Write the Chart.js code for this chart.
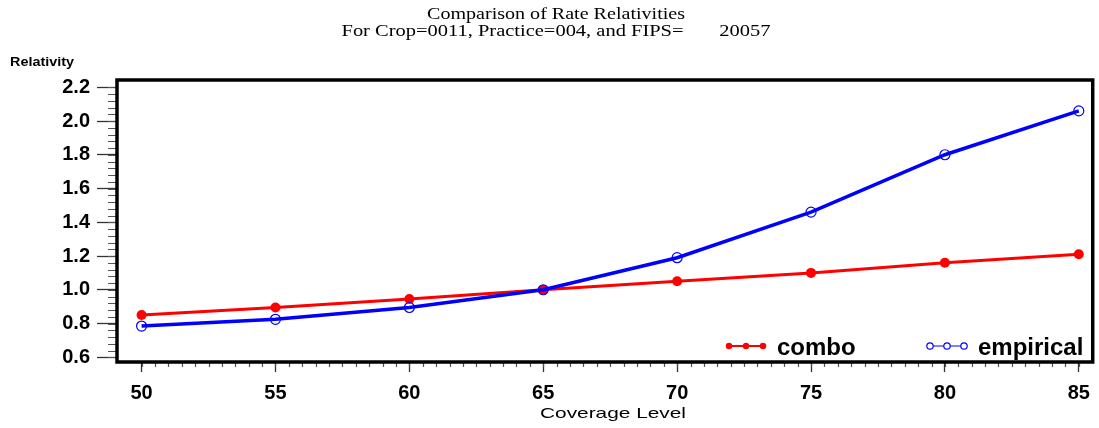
<!DOCTYPE html>
<html>
<head>
<meta charset="utf-8">
<script src="https://cdn.jsdelivr.net/npm/chart.js@4.4.1/dist/chart.umd.min.js"></script>
<style>
  html, body { margin: 0; padding: 0; background: #fff; }
  #wrap { width: 1099px; height: 428px; position: relative; }
</style>
</head>
<body>
<div id="wrap"><canvas id="rateChart"></canvas></div>
<script>
// chart data
var coverageLevels = [50, 55, 60, 65, 70, 75, 80, 85];
var comboValues = [0.85, 0.895, 0.945, 1.0, 1.05, 1.10, 1.16, 1.21];
var empiricalValues = [0.785, 0.825, 0.895, 1.0, 1.19, 1.46, 1.80, 2.06];
var yTickValues = [0.6, 0.8, 1.0, 1.2, 1.4, 1.6, 1.8, 2.0, 2.2];
var xTickValues = [50, 55, 60, 65, 70, 75, 80, 85];
var seriesNames = ["combo", "empirical"];
var titleLines = ["Comparison of Rate Relativities", "For Crop=0011, Practice=004, and FIPS=       20057"];
var yAxisTitle = "Relativity";
var xAxisTitle = "Coverage Level";

function toPoints(xs, ys) {
  var pts = [];
  for (var i = 0; i < xs.length; i++) {
    pts.push({ x: xs[i], y: ys[i] });
  }
  return pts;
}

// draws text squeezed/stretched horizontally to a given width
function drawWide(ctx, text, x, y, font, width, align) {
  ctx.save();
  ctx.font = font;
  var w = ctx.measureText(text).width;
  var sx = width / w;
  ctx.translate(x, y);
  ctx.scale(sx, 1);
  ctx.textAlign = align || "left";
  ctx.textBaseline = "alphabetic";
  ctx.fillStyle = "#000";
  ctx.fillText(text, 0, 0);
  ctx.restore();
}

var framePlugin = {
  id: "framePlugin",
  afterDraw: function(chart) {
    var ctx = chart.ctx;
    var a = chart.chartArea;
    var xs = chart.scales.x, ys = chart.scales.y;

    // minor ticks
    ctx.save();
    ctx.strokeStyle = "#555";
    ctx.lineWidth = 1.2;
    ctx.beginPath();
    for (var v = 0.6; v < 2.2001; v += 0.04) {
      var py = Math.round(ys.getPixelForValue(v)) + 0.5;
      ctx.moveTo(a.left - 9, py);
      ctx.lineTo(a.left, py);
    }
    for (var u = 50; u <= 85.001; u += 0.5) {
      var px = Math.round(xs.getPixelForValue(u)) + 0.5;
      ctx.moveTo(px, a.bottom);
      ctx.lineTo(px, a.bottom + 5);
    }
    ctx.stroke();
    ctx.restore();

    // box frame
    ctx.save();
    ctx.strokeStyle = "#000";
    ctx.lineWidth = 3.5;
    ctx.strokeRect(a.left, a.top, a.right - a.left, a.bottom - a.top);
    ctx.restore();

    // titles
    drawWide(ctx, titleLines[0], 556, 19, "16px 'Liberation Serif', serif", 258, "center");
    drawWide(ctx, titleLines[1], 556, 36, "16px 'Liberation Serif', serif", 429, "center");
    drawWide(ctx, yAxisTitle, 10, 66, "bold 13px 'Liberation Sans', Arial, sans-serif", 64, "left");
    drawWide(ctx, xAxisTitle, 613, 418, "15px 'Liberation Sans', Arial, sans-serif", 146, "center");

    // legend inside the plot
    var ds = chart.data.datasets;
    var legendX = [726, 927];
    var ly = 346;
    for (var i = 0; i < ds.length; i++) {
      var lx = legendX[i];
      ctx.save();
      ctx.strokeStyle = ds[i].borderColor;
      ctx.lineWidth = i === 0 ? 2 : 1;
      ctx.beginPath();
      ctx.moveTo(lx, ly);
      ctx.lineTo(lx + 40, ly);
      ctx.stroke();
      for (var k = 0; k < 3; k++) {
        ctx.beginPath();
        ctx.arc(lx + 3 + k * 17, ly, 3.2, 0, Math.PI * 2);
        if (i === 0) {
          ctx.fillStyle = ds[i].borderColor;
          ctx.fill();
        } else {
          ctx.lineWidth = 1.2;
          ctx.fillStyle = "#fff";
          ctx.fill();
          ctx.stroke();
        }
      }
      ctx.restore();
      ctx.save();
      ctx.font = "bold 24px 'Liberation Sans', Arial, sans-serif";
      ctx.fillStyle = "#000";
      ctx.textBaseline = "alphabetic";
      ctx.fillText(ds[i].label, lx + 51, 355);
      ctx.restore();
    }
  }
};

var tickFont = { family: "'Liberation Sans', Arial, sans-serif", size: 20, weight: "bold" };

var ctx = document.getElementById("rateChart");
var rateChart = new Chart(ctx, {
  type: "line",
  data: {
    datasets: [{
      label: seriesNames[0],
      data: toPoints(coverageLevels, comboValues),
      borderColor: "#ff0000",
      backgroundColor: "#ff0000",
      borderWidth: 3,
      pointRadius: 5,
      pointBorderWidth: 0,
      pointBackgroundColor: "#ff0000",
      order: 1
    }, {
      label: seriesNames[1],
      data: toPoints(coverageLevels, empiricalValues),
      borderColor: "#0000ff",
      backgroundColor: "#0000ff",
      borderWidth: 3.5,
      pointRadius: 5,
      pointBorderWidth: 1.2,
      pointBackgroundColor: "rgba(0,0,0,0)",
      pointBorderColor: "#0000ff",
      order: 0
    }]
  },
  options: {
    responsive: true,
    maintainAspectRatio: false,
    animation: false,
    events: [],
    layout: { padding: { top: 80, right: 2, left: 0, bottom: 0 } },
    plugins: {
      legend: { display: false },
      title: { display: false },
      tooltip: { enabled: false }
    },
    scales: {
      x: {
        type: "linear",
        min: 49.082,
        max: 85.52,
        afterBuildTicks: function(scale) {
          scale.ticks = xTickValues.map(function(v) { return { value: v }; });
        },
        afterFit: function(scale) { scale.height = 66; },
        grid: { drawOnChartArea: false, tickLength: 10, tickColor: "#333", tickWidth: 1.3 },
        border: { display: false },
        ticks: {
          font: tickFont,
          color: "#000",
          padding: 9,
          maxRotation: 0,
          callback: function(v) { return String(v); }
        }
      },
      y: {
        min: 0.572,
        max: 2.243,
        afterBuildTicks: function(scale) {
          scale.ticks = yTickValues.map(function(v) { return { value: v }; });
        },
        afterFit: function(scale) { scale.width = 117; },
        grid: { drawOnChartArea: false, tickLength: 20, tickColor: "#333", tickWidth: 1.3 },
        border: { display: false },
        ticks: {
          font: tickFont,
          color: "#000",
          padding: 7,
          callback: function(v) { return v.toFixed(1); }
        }
      }
    }
  },
  plugins: [framePlugin]
});
</script>
</body>
</html>
